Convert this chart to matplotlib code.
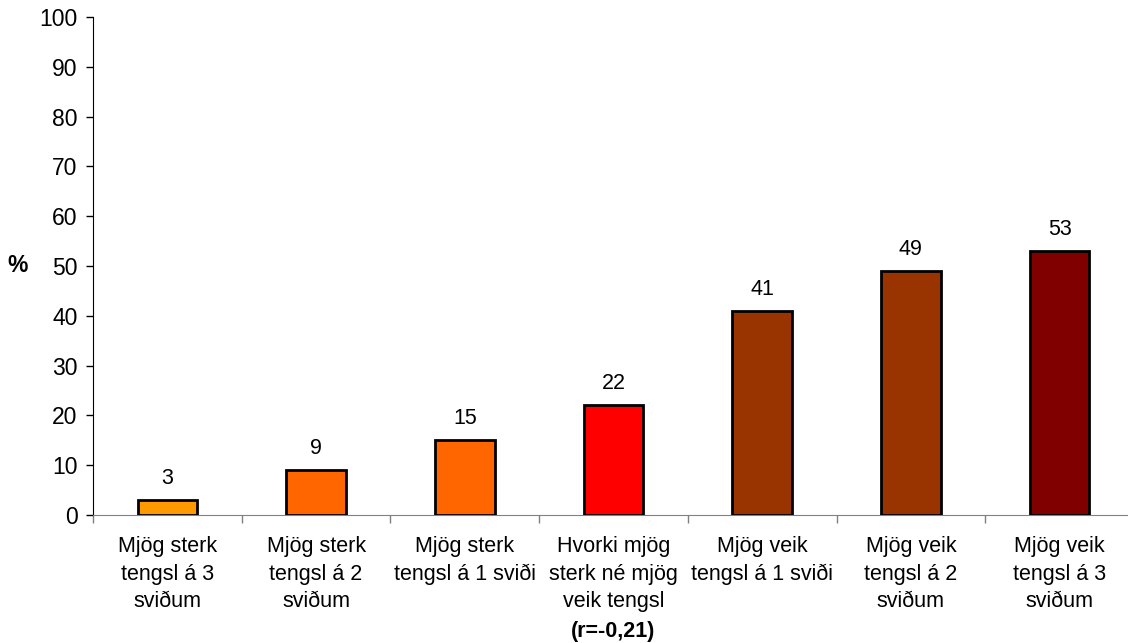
import matplotlib.pyplot as plt
import numpy as np

plt.rcParams['font.family'] = ['Liberation Sans', 'DejaVu Sans']

# data
categories = [
    'Mjög sterk\ntengsl á 3\nsviðum',
    'Mjög sterk\ntengsl á 2\nsviðum',
    'Mjög sterk\ntengsl á 1 sviði',
    'Hvorki mjög\nsterk né mjög\nveik tengsl',
    'Mjög veik\ntengsl á 1 sviði',
    'Mjög veik\ntengsl á 2\nsviðum',
    'Mjög veik\ntengsl á 3\nsviðum',
]
values = [3, 9, 15, 22, 41, 49, 53]
bar_colors = ['#FF9900', '#FF6600', '#FF6600', '#FF0000', '#993300', '#993300', '#800000']
note_label = '(r=-0,21)'
note_index = 3

FS = 15.5
TICK_FS = 16.5

fig = plt.figure(figsize=(11.28, 6.43), dpi=100)
ax = fig.add_axes([93 / 1128, 1 - 515 / 643, (1134 - 93) / 1128, (515 - 17) / 643])

x = np.arange(len(values))
ax.bar(x, values, width=0.4, color=bar_colors, edgecolor='black', linewidth=2, zorder=3)

for xi, v in zip(x, values):
    ax.annotate(str(v), (xi, v), xytext=(0, 8), textcoords='offset points',
                ha='center', va='bottom', fontsize=FS)

ax.set_xlim(-0.5, len(values) - 0.5)
ax.set_ylim(0, 100)
ax.set_yticks(range(0, 101, 10))
ax.tick_params(axis='y', labelsize=TICK_FS, length=5, width=1, direction='out', pad=6)

# category labels centered, ticks at boundaries
ax.set_xticks(np.arange(len(values) + 1) - 0.5)
ax.set_xticklabels([])
ax.tick_params(axis='x', length=6, width=1, color='#808080', direction='out')
for xi, lab in zip(x, categories):
    ax.annotate(lab, (xi, 0), xycoords=('data', 'axes fraction'), xytext=(0, -15),
                textcoords='offset points', ha='center', va='top', fontsize=FS,
                linespacing=1.42)
ax.annotate(note_label, (note_index, 0), xycoords=('data', 'axes fraction'),
            xytext=(0, -76), textcoords='offset points', ha='center', va='top',
            fontsize=FS, fontweight='bold')

ax.set_ylabel('%', fontsize=TICK_FS, fontweight='bold', rotation=0, va='center')
ax.yaxis.set_label_coords(-0.072, 0.5)

for side in ['top', 'right']:
    ax.spines[side].set_visible(False)
ax.spines['left'].set_color('black')
ax.spines['bottom'].set_color('#808080')

plt.savefig('out.png', dpi=100, facecolor='white')
